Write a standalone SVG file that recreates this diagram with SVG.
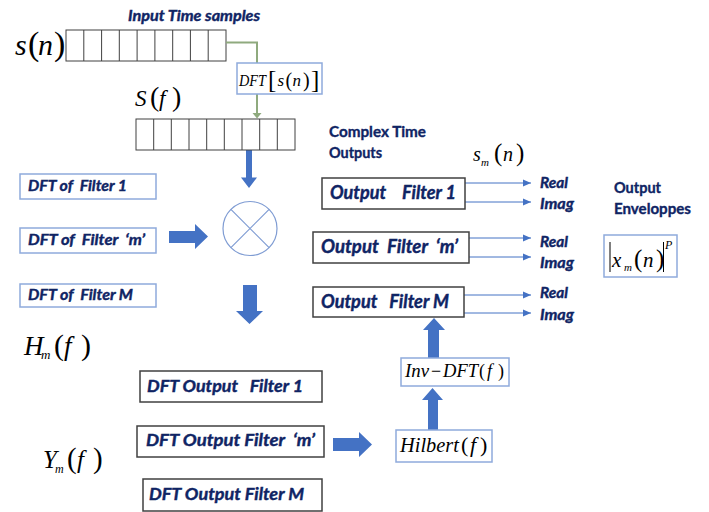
<svg xmlns="http://www.w3.org/2000/svg" width="709" height="512" viewBox="0 0 709 512">
<defs>
<style>
.lbl{font-family:Lato,"Open Sans","Liberation Sans",sans-serif;font-weight:bold;font-style:italic;fill:#0F2464;stroke:#0F2464;stroke-width:0.4;}
.hdr{font-family:Lato,"Open Sans","Liberation Sans",sans-serif;font-weight:bold;fill:#0F2464;stroke:#0F2464;stroke-width:0.35;}
.mi{font-family:"Liberation Serif","DejaVu Serif",serif;font-style:italic;fill:#000;}
.mu{font-family:"Liberation Serif","DejaVu Serif",serif;fill:#000;}
.bbox{fill:#fff;stroke:#8FAADC;stroke-width:1.5;}
.dbox{fill:#fff;stroke:#404040;stroke-width:1.5;}
.cell{fill:#fff;stroke:#404040;stroke-width:1;}
.thin{fill:none;stroke:#4472C4;stroke-width:1;marker-end:url(#ah);}
.fat{fill:#4472C4;}
.grn{fill:none;stroke:#8FAA7E;stroke-width:2;}
</style>
<marker id="ah" viewBox="0 0 8 8" refX="8" refY="4" markerWidth="8" markerHeight="8" markerUnits="userSpaceOnUse" orient="auto">
<path d="M0,0.5 L8,4 L0,7.5 Z" fill="#4472C4"/>
</marker>
</defs>
<rect width="709" height="512" fill="#fff"/>

<g id="input-title">
<text class="lbl" x="128" y="21" font-size="14.5" textLength="132" lengthAdjust="spacingAndGlyphs">Input Time samples</text>
</g>

<g id="sn-array">
<text class="mi" x="15" y="55" font-size="30">s</text>
<text class="mu" x="28" y="55" font-size="34">(</text>
<text class="mi" x="38" y="55" font-size="30">n</text>
<text class="mu" x="54" y="55" font-size="34">)</text>
<rect class="cell" x="66" y="30" width="160" height="31"/>
<path d="M83.8,30V61M101.6,30V61M119.3,30V61M137.1,30V61M154.9,30V61M172.7,30V61M190.4,30V61M208.2,30V61" stroke="#404040" stroke-width="1" fill="none"/>
</g>

<g id="connectors">
<path class="grn" d="M226,42.5H257V63"/>
<path class="grn" d="M257,94V114"/>
<path d="M252.5,113L261.5,113L257,118.5Z" fill="#8FAA7E"/>
<path class="fat" d="M246,150H252V177.5H257L249,188L241,177.5H246Z"/>
<path class="fat" d="M169,231H195V224L208,236.5L195,249V243H169Z"/>
<path class="fat" d="M243,285H257V311H263L249.5,324L236,311H243Z"/>
<path class="fat" d="M333,438H359V432L372,444.5L359,457V451H333Z"/>
<path class="fat" d="M428,430V400H422L432.5,388L443,400H438V430Z"/>
<path class="fat" d="M428,358V330H423L434,318L445,330H439V358Z"/>
<path class="thin" d="M465,183H531"/>
<path class="thin" d="M465,202H531"/>
<path class="thin" d="M464,238H531"/>
<path class="thin" d="M464,257H531"/>
<path class="thin" d="M464,295H531"/>
<path class="thin" d="M464,313H531"/>
</g>

<g id="dft-sn">
<rect class="bbox" x="237" y="63" width="85" height="31"/>
<text class="mi" x="239" y="86" font-size="17" textLength="27" lengthAdjust="spacingAndGlyphs">DFT</text>
<text class="mu" x="268" y="88" font-size="25">[</text>
<text class="mi" x="277.5" y="86" font-size="17">s</text>
<text class="mu" x="285.5" y="87" font-size="20">(</text>
<text class="mi" x="292.5" y="86" font-size="17">n</text>
<text class="mu" x="303" y="87" font-size="20">)</text>
<text class="mu" x="311" y="88" font-size="25">]</text>
</g>

<g id="sf-array">
<text class="mi" x="135" y="106" font-size="23">S</text>
<text class="mu" x="150" y="106" font-size="28">(</text>
<text class="mi" x="159" y="106" font-size="23">f</text>
<text class="mu" x="172" y="106" font-size="28">)</text>
<rect class="cell" x="136" y="119" width="159" height="31"/>
<path d="M153.7,119V150M171.3,119V150M189,119V150M206.7,119V150M224.3,119V150M242,119V150M259.7,119V150M277.3,119V150" stroke="#404040" stroke-width="1" fill="none"/>
</g>

<g id="filter1">
<rect class="bbox" x="20" y="174" width="136" height="25"/>
<text class="lbl" x="28" y="190.5" font-size="15" xml:space="preserve" textLength="99" lengthAdjust="spacingAndGlyphs">DFT of  Filter 1</text>
</g>
<g id="filterm">
<rect class="bbox" x="20" y="228" width="136" height="25"/>
<text class="lbl" x="28" y="244.5" font-size="15" xml:space="preserve" textLength="117" lengthAdjust="spacingAndGlyphs">DFT of  Filter  ‘m’</text>
</g>
<g id="filterM">
<rect class="bbox" x="20" y="284" width="136" height="23"/>
<text class="lbl" x="28" y="300" font-size="15" xml:space="preserve" textLength="105" lengthAdjust="spacingAndGlyphs">DFT of  Filter M</text>
</g>

<g id="multiplier">
<circle cx="250" cy="228.5" r="27" fill="#fff" stroke="#7F9CD3" stroke-width="1.2"/>
<path d="M230.9,209.4L269.1,247.6M269.1,209.4L230.9,247.6" stroke="#7F9CD3" stroke-width="1.2"/>
</g>

<g id="hm-label">
<text class="mi" x="24" y="355" font-size="27">H</text>
<text class="mi" x="41" y="359" font-size="13">m</text>
<text class="mu" x="54" y="355" font-size="30">(</text>
<text class="mi" x="64" y="355" font-size="27">f</text>
<text class="mu" x="81" y="355" font-size="30">)</text>
</g>

<g id="ym-label">
<text class="mi" x="43" y="468" font-size="25">Y</text>
<text class="mi" x="55" y="473" font-size="12">m</text>
<text class="mu" x="67" y="468" font-size="29">(</text>
<text class="mi" x="77" y="468" font-size="25">f</text>
<text class="mu" x="93" y="468" font-size="29">)</text>
</g>

<g id="dftout1">
<rect class="dbox" x="140" y="371" width="182" height="31"/>
<text class="lbl" x="147" y="392" font-size="17" xml:space="preserve" textLength="156" lengthAdjust="spacingAndGlyphs">DFT Output   Filter 1</text>
</g>
<g id="dftoutm">
<rect class="dbox" x="137" y="426" width="187" height="31"/>
<text class="lbl" x="146" y="446" font-size="17" xml:space="preserve" textLength="169" lengthAdjust="spacingAndGlyphs">DFT Output Filter  ‘m’</text>
</g>
<g id="dftoutM">
<rect class="dbox" x="143" y="479" width="179" height="32"/>
<text class="lbl" x="149" y="500" font-size="17" xml:space="preserve" textLength="155" lengthAdjust="spacingAndGlyphs">DFT Output Filter M</text>
</g>

<g id="hilbert">
<rect class="bbox" x="396" y="430" width="96" height="32"/>
<text class="mi" x="400" y="452" font-size="22" textLength="59" lengthAdjust="spacingAndGlyphs">Hilbert</text>
<text class="mu" x="461" y="452" font-size="22">(</text>
<text class="mi" x="470" y="452" font-size="22">f</text>
<text class="mu" x="480" y="452" font-size="22">)</text>
</g>

<g id="invdft">
<rect class="bbox" x="401" y="358" width="108" height="28"/>
<text class="mi" x="405" y="377" font-size="18" textLength="24" lengthAdjust="spacingAndGlyphs">Inv</text>
<text class="mu" x="431" y="377" font-size="18">−</text>
<text class="mi" x="443" y="377" font-size="18" textLength="35" lengthAdjust="spacingAndGlyphs">DFT</text>
<text class="mu" x="479" y="377" font-size="18">(</text>
<text class="mi" x="487" y="377" font-size="18">f</text>
<text class="mu" x="498" y="377" font-size="18">)</text>
</g>

<g id="complex-title">
<text class="hdr" x="329" y="137" font-size="15" textLength="97" lengthAdjust="spacingAndGlyphs">Complex Time</text>
<text class="hdr" x="329" y="158" font-size="15" textLength="53" lengthAdjust="spacingAndGlyphs">Outputs</text>
</g>

<g id="smn-label">
<text class="mi" x="473" y="161" font-size="20">s</text>
<text class="mi" x="481" y="166" font-size="11">m</text>
<text class="mu" x="494" y="161" font-size="25">(</text>
<text class="mi" x="503" y="161" font-size="20">n</text>
<text class="mu" x="516" y="161" font-size="25">)</text>
</g>

<g id="out1">
<rect class="dbox" x="322" y="178" width="143" height="31"/>
<text class="lbl" x="330" y="199" font-size="18" xml:space="preserve" textLength="126" lengthAdjust="spacingAndGlyphs">Output    Filter 1</text>
</g>
<g id="outm">
<rect class="dbox" x="313" y="232" width="156" height="31"/>
<text class="lbl" x="321" y="253" font-size="18" xml:space="preserve" textLength="137" lengthAdjust="spacingAndGlyphs">Output  Filter  ‘m’</text>
</g>
<g id="outM">
<rect class="dbox" x="313" y="287" width="151" height="30"/>
<text class="lbl" x="321" y="308" font-size="18" xml:space="preserve" textLength="128" lengthAdjust="spacingAndGlyphs">Output   Filter M</text>
</g>

<g id="real-imag">
<text class="lbl" x="540" y="188" font-size="15" textLength="28" lengthAdjust="spacingAndGlyphs">Real</text>
<text class="lbl" x="540" y="209" font-size="15" textLength="34" lengthAdjust="spacingAndGlyphs">Imag</text>
<text class="lbl" x="540" y="247" font-size="15" textLength="28" lengthAdjust="spacingAndGlyphs">Real</text>
<text class="lbl" x="540" y="268" font-size="15" textLength="34" lengthAdjust="spacingAndGlyphs">Imag</text>
<text class="lbl" x="540" y="298" font-size="15" textLength="28" lengthAdjust="spacingAndGlyphs">Real</text>
<text class="lbl" x="540" y="320" font-size="15" textLength="34" lengthAdjust="spacingAndGlyphs">Imag</text>
</g>

<g id="envelope-title">
<text class="hdr" x="614" y="193" font-size="15" textLength="47" lengthAdjust="spacingAndGlyphs">Output</text>
<text class="hdr" x="614" y="214" font-size="15" textLength="77" lengthAdjust="spacingAndGlyphs">Enveloppes</text>
</g>

<g id="envelope">
<rect class="bbox" x="604" y="235" width="73" height="42"/>
<path d="M610,242V272M663.5,242V272" stroke="#000" stroke-width="1"/>
<text class="mi" x="612" y="267" font-size="21">x</text>
<text class="mi" x="624" y="271" font-size="11">m</text>
<text class="mu" x="634" y="267" font-size="25">(</text>
<text class="mi" x="643" y="267" font-size="21">n</text>
<text class="mu" x="656" y="267" font-size="25">)</text>
<text class="mi" x="665" y="249" font-size="12">P</text>
</g>
</svg>
